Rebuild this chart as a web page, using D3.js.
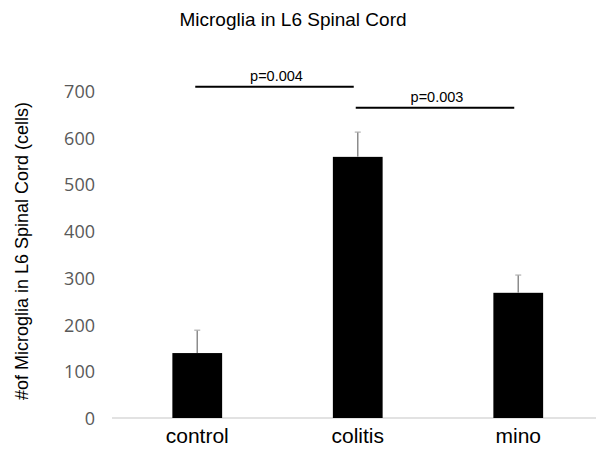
<!doctype html>
<html>
<head>
<meta charset="UTF-8">
<title>Microglia in L6 Spinal Cord</title>
<script src="https://d3js.org/d3.v7.min.js"></script>
<style>
  body { margin: 0; background: #fff; }
  svg { display: block; }
</style>
</head>
<body>
<div id="chart"></div>
<script>
// data
var groups = ["control", "colitis", "mino"];
var means = [139, 559, 268];
var errTops = [188, 612, 306];
var yTicks = [0, 100, 200, 300, 400, 500, 600, 700];
// significance brackets: from group, to group, height, label
var sigFrom = ["control", "colitis"];
var sigTo = ["colitis", "mino"];
var sigLevel = [709, 664];
var sigText = ["p=0.004", "p=0.003"];

var W = 596, H = 449;

var svg = d3.select("#chart").append("svg")
    .attr("width", W)
    .attr("height", H);

var x = d3.scaleBand()
    .domain(groups)
    .range([117, 598.5])
    .paddingInner(0.69)
    .paddingOuter(0.345);

var y = d3.scaleLinear()
    .domain([0, 700])
    .range([418, 91]);

// title
svg.append("text")
    .attr("x", 293)
    .attr("y", 26)
    .attr("text-anchor", "middle")
    .style("font-family", "Liberation Sans, Arial, sans-serif")
    .style("font-size", "19px")
    .attr("fill", "#000")
    .text("Microglia in L6 Spinal Cord");

// y axis label
svg.append("text")
    .attr("transform", "translate(28,251) rotate(-90)")
    .attr("text-anchor", "middle")
    .style("font-family", "Liberation Sans, Arial, sans-serif")
    .style("font-size", "18px")
    .attr("fill", "#000")
    .text("#of Microglia in L6 Spinal Cord (cells)");

// y tick labels
var yAxis = d3.axisLeft(y).tickValues(yTicks).tickSize(0).tickPadding(0);
var gy = svg.append("g")
    .attr("transform", "translate(95,0)")
    .call(yAxis);
gy.select(".domain").remove();
gy.selectAll("text")
    .attr("dy", "0.36em")
    .style("font-family", "Open Sans, sans-serif")
    .style("font-size", "18px")
    .attr("fill", "#595959");

// baseline
svg.append("line")
    .attr("x1", 112)
    .attr("x2", 596)
    .attr("y1", y(0))
    .attr("y2", y(0))
    .attr("stroke", "#d9d9d9")
    .attr("stroke-width", 1.5);

// bars
svg.selectAll(".bar")
    .data(groups)
    .enter().append("rect")
    .attr("class", "bar")
    .attr("x", function(d) { return x(d); })
    .attr("width", x.bandwidth())
    .attr("y", function(d, i) { return y(means[i]); })
    .attr("height", function(d, i) { return y(0) - y(means[i]); })
    .attr("fill", "#000");

// error bars (upper only)
var err = svg.selectAll(".err")
    .data(groups)
    .enter().append("g")
    .attr("class", "err");
err.append("line")
    .attr("x1", function(d) { return x(d) + x.bandwidth() / 2; })
    .attr("x2", function(d) { return x(d) + x.bandwidth() / 2; })
    .attr("y1", function(d, i) { return y(means[i]); })
    .attr("y2", function(d, i) { return y(errTops[i]); })
    .attr("stroke", "#8c8c8c")
    .attr("stroke-width", 1.5);
err.append("line")
    .attr("x1", function(d) { return x(d) + x.bandwidth() / 2 - 3; })
    .attr("x2", function(d) { return x(d) + x.bandwidth() / 2 + 3; })
    .attr("y1", function(d, i) { return y(errTops[i]); })
    .attr("y2", function(d, i) { return y(errTops[i]); })
    .attr("stroke", "#b0b0b0")
    .attr("stroke-width", 1.2);

// significance lines
var center = function(g) { return x(g) + x.bandwidth() / 2; };
var sig = svg.selectAll(".sig")
    .data(sigText)
    .enter().append("g")
    .attr("class", "sig");
sig.append("line")
    .attr("x1", function(d, i) { return center(sigFrom[i]) - 2; })
    .attr("x2", function(d, i) { return center(sigTo[i]) - 4; })
    .attr("y1", function(d, i) { return y(sigLevel[i]); })
    .attr("y2", function(d, i) { return y(sigLevel[i]); })
    .attr("stroke", "#000")
    .attr("stroke-width", 2);
sig.append("text")
    .attr("x", function(d, i) { return (center(sigFrom[i]) + center(sigTo[i])) / 2 - 1; })
    .attr("y", function(d, i) { return y(sigLevel[i]) - 6; })
    .attr("text-anchor", "middle")
    .style("font-family", "Liberation Sans, Arial, sans-serif")
    .style("font-size", "14.5px")
    .attr("fill", "#000")
    .text(function(d) { return d; });

// category labels
svg.selectAll(".cat")
    .data(groups)
    .enter().append("text")
    .attr("class", "cat")
    .attr("x", function(d) { return center(d); })
    .attr("y", 443)
    .attr("text-anchor", "middle")
    .style("font-family", "Liberation Sans, Arial, sans-serif")
    .style("font-size", "21px")
    .attr("fill", "#000")
    .text(function(d) { return d; });
</script>
</body>
</html>
